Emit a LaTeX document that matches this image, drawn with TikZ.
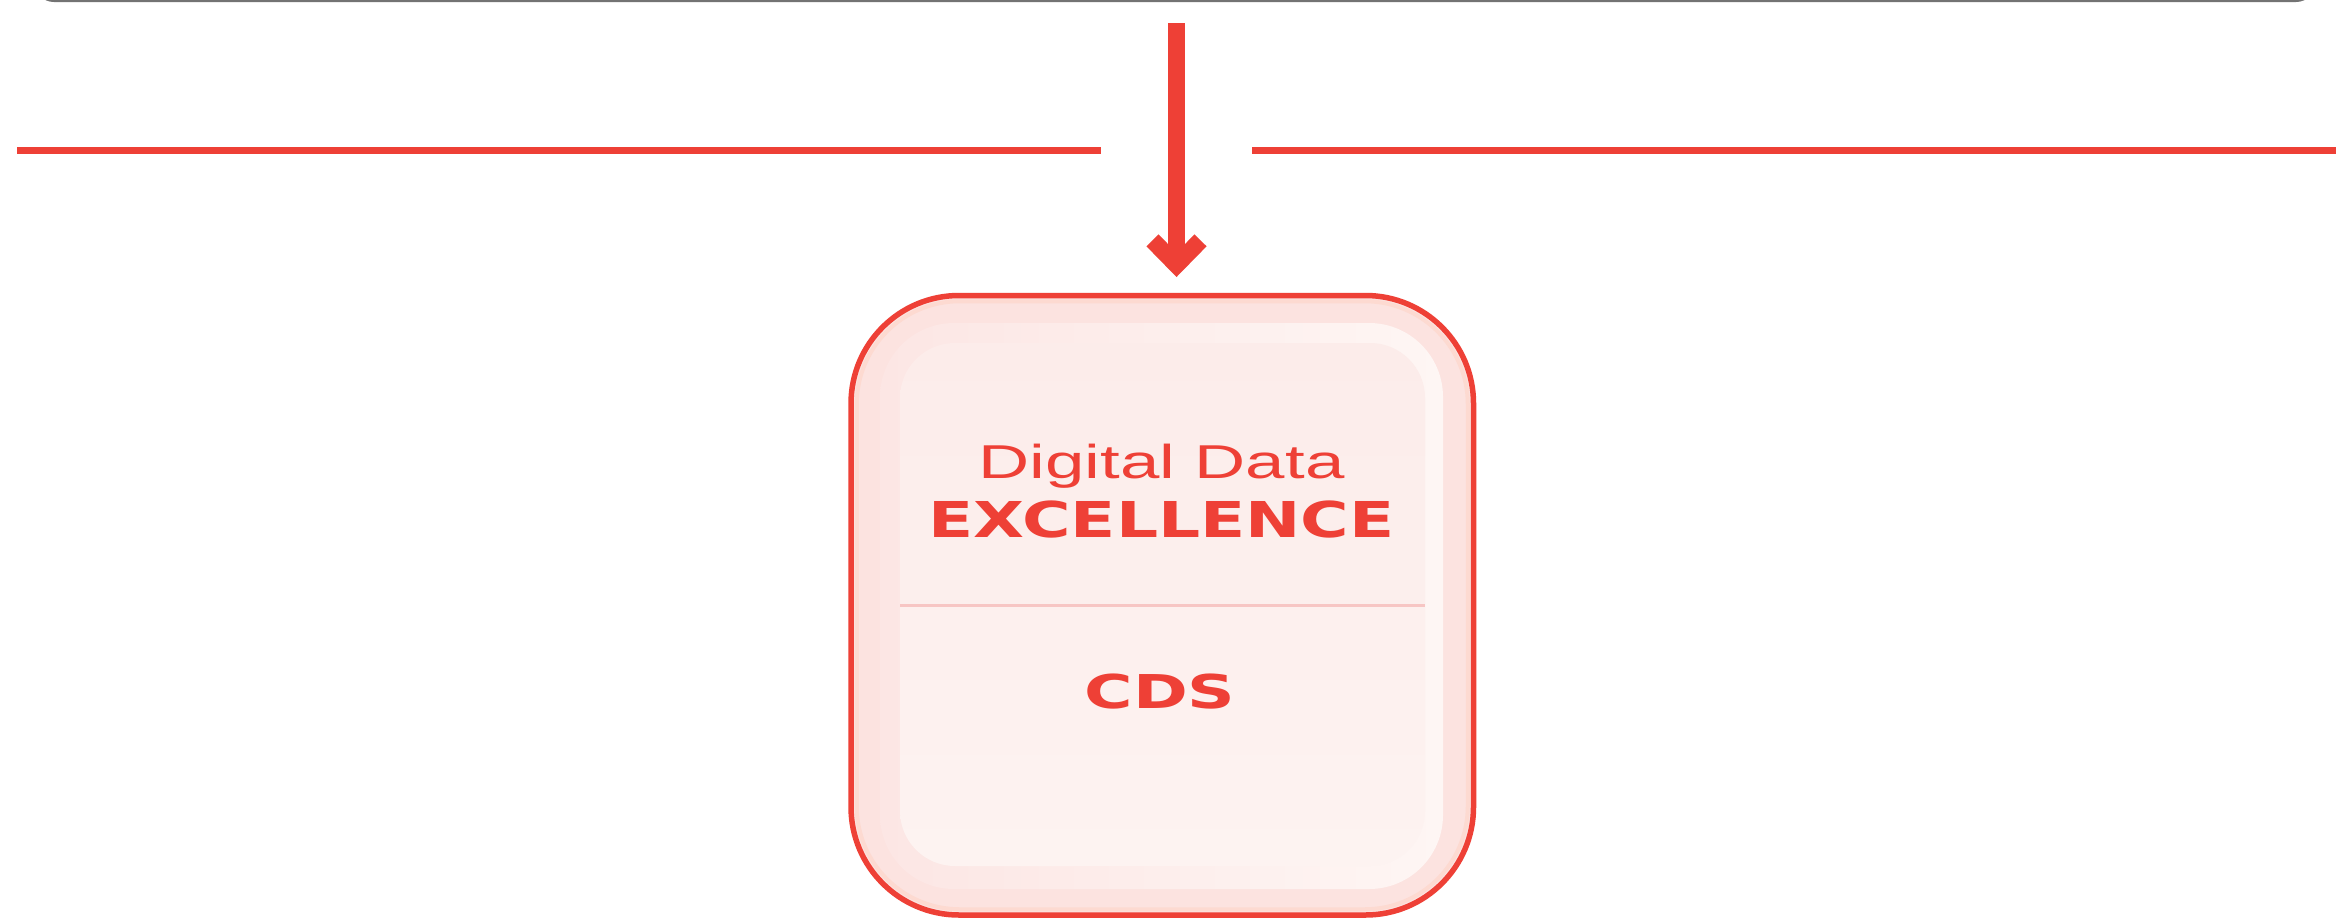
\documentclass[tikz,border=0pt]{standalone}
\usepackage{fontspec}
\usepackage{graphicx}
\usetikzlibrary{arrows.meta}
\newfontfamily\thinfont{Liberation Sans}
\newfontfamily\heavyfont{DejaVu Sans}
\definecolor{ddred}{HTML}{EE4036}
\definecolor{outerpink}{HTML}{FCE3E0}
\definecolor{peach}{HTML}{FDDAD1}
\definecolor{midpink}{HTML}{FCE6E4}
\definecolor{midwhite}{HTML}{FEF6F4}
\definecolor{innerA}{HTML}{FCECEA}
\definecolor{innerB}{HTML}{FDF3F1}
\definecolor{divpink}{HTML}{F7C6C4}
\tikzset{
  outerbox/.style={rectangle, rounded corners=108pt, draw=ddred, line width=5.5pt, fill=outerpink, inner sep=0pt},
  peachring/.style={rectangle, rounded corners=103pt, draw=peach, line width=4pt, inner sep=0pt},
  midbox/.style={rectangle, rounded corners=74pt, left color=midpink, right color=midwhite, inner sep=0pt},
  innerbox/.style={rectangle, rounded corners=55pt, inner sep=0pt},
  divider/.style={draw=divpink, line width=3pt},
  flowline/.style={draw=ddred, line width=7.5pt},
  arrowline/.style={draw=ddred, line width=17pt, -{Straight Barb[length=24.5pt, width=48pt, sharp]}},
  txt/.style={inner sep=0pt, text=ddred},
  topedge/.style={draw=black!55, line width=3pt, rounded corners=18pt}
}
\begin{document}
\begin{tikzpicture}[x=1pt,y=-1pt]
\useasboundingbox (0,0) rectangle (2336,921);
\fill[white] (0,0) rectangle (2336,921);
% top edge of a shape cut off by the border
\draw[topedge] (36,-40) -- (36,0.5) -- (2314,0.5) -- (2314,-40);
% horizontal lines
\coordinate (l1) at (17,150.5);
\coordinate (l2) at (1101,150.5);
\coordinate (r1) at (1252,150.5);
\coordinate (r2) at (2336,150.5);
\draw[flowline] (l1) -- (l2);
\draw[flowline] (r1) -- (r2);
% box
\node[outerbox, minimum width=622.5pt, minimum height=619.5pt] (box) at (1162.25,605.25) {};
\node[peachring, minimum width=611pt, minimum height=608pt] (ring) at (1162.25,605.25) {};
\node[midbox, minimum width=563pt, minimum height=566pt] (mid) at (1161.5,606) {};
\node[innerbox, minimum width=525pt, minimum height=523pt, shading angle=45, top color=innerA, bottom color=innerB] (inner) at (1162.5,604.5) {};
\coordinate (d1) at (900,605);
\coordinate (d2) at (1425,605);
\draw[divider] (d1) -- (d2);
% texts
\node[txt, anchor=base] (t1) at (1161.5,478) {\resizebox{366pt}{\height}{\thinfont\fontsize{47.5}{50}\selectfont Digital Data}};
\node[txt, anchor=base] (t2) at (1161.5,537) {\resizebox{466pt}{\height}{\heavyfont\bfseries\fontsize{49.4}{52}\selectfont EXCELLENCE}};
\node[txt, anchor=base] (t3) at (1160,708) {\resizebox{151pt}{\height}{\heavyfont\bfseries\fontsize{46.6}{50}\selectfont CDS}};
% arrow
\coordinate (atop) at (1176.5,23);
\draw[arrowline, shorten >=15.75pt] (atop) -- (atop |- box.north);
\end{tikzpicture}
\end{document}
